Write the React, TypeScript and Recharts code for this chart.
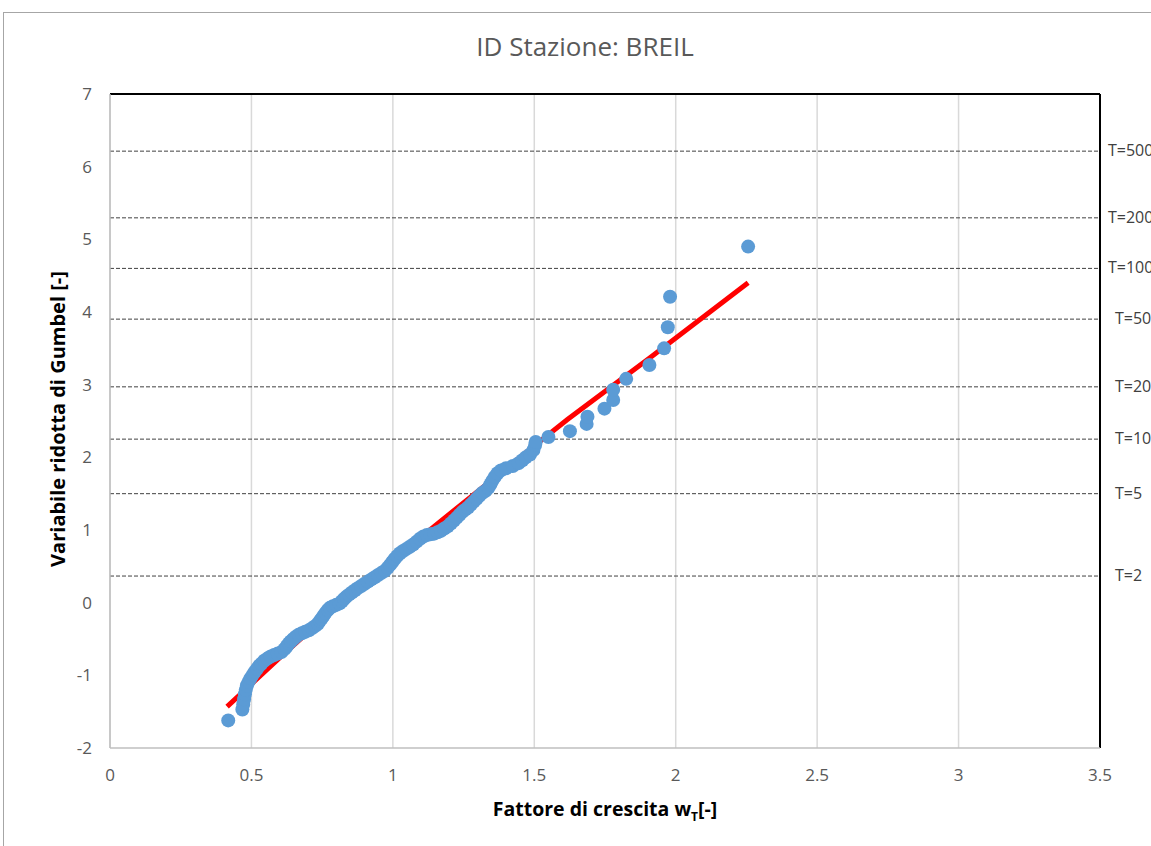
import React from 'react';
import {
  ComposedChart, Scatter, XAxis, YAxis, CartesianGrid, ReferenceLine,
} from 'recharts';

// growth factor w_T of each annual maximum (sorted)
const growthFactor = [
  0.418, 0.468, 0.471, 0.474, 0.477, 0.480, 0.484, 0.490, 0.497, 0.505,
  0.512, 0.520, 0.527, 0.535, 0.545, 0.556, 0.568, 0.580, 0.593, 0.606,
  0.617, 0.625, 0.632, 0.640, 0.648, 0.657, 0.667, 0.678, 0.690, 0.703,
  0.715, 0.726, 0.735, 0.742, 0.748, 0.755, 0.762, 0.770, 0.778, 0.788,
  0.800, 0.812, 0.820, 0.827, 0.835, 0.845, 0.855, 0.866, 0.876, 0.888,
  0.900, 0.912, 0.924, 0.936, 0.948, 0.960, 0.972, 0.982, 0.990, 0.998,
  1.006, 1.015, 1.025, 1.036, 1.048, 1.060, 1.072, 1.084, 1.096, 1.108,
  1.120, 1.133, 1.146, 1.158, 1.170, 1.182, 1.194, 1.205, 1.216, 1.226,
  1.236, 1.246, 1.256, 1.266, 1.276, 1.286, 1.296, 1.306, 1.316, 1.328,
  1.338, 1.345, 1.352, 1.360, 1.370, 1.382, 1.400, 1.424, 1.445, 1.458,
  1.470, 1.485, 1.497, 1.503, 1.505, 1.550, 1.626, 1.685, 1.688, 1.748,
  1.779, 1.779, 1.825, 1.907, 1.959, 1.972, 1.980, 2.256,
];

// Gumbel reduced variate of the plotting position
const reducedVariate = [
  -1.62, -1.47, -1.40, -1.33, -1.26, -1.20, -1.14, -1.09, -1.04, -0.99,
  -0.95, -0.91, -0.87, -0.84, -0.80, -0.77, -0.74, -0.72, -0.70, -0.68,
  -0.64, -0.60, -0.56, -0.53, -0.50, -0.47, -0.44, -0.42, -0.40, -0.38,
  -0.35, -0.32, -0.29, -0.25, -0.22, -0.18, -0.14, -0.10, -0.07, -0.05,
  -0.03, -0.01, 0.02, 0.05, 0.08, 0.11, 0.14, 0.17, 0.20, 0.23,
  0.26, 0.29, 0.32, 0.35, 0.38, 0.41, 0.44, 0.48, 0.52, 0.56,
  0.60, 0.64, 0.68, 0.71, 0.74, 0.77, 0.80, 0.84, 0.88, 0.91,
  0.93, 0.94, 0.95, 0.97, 0.99, 1.02, 1.05, 1.09, 1.13, 1.17,
  1.21, 1.25, 1.28, 1.31, 1.35, 1.39, 1.43, 1.47, 1.51, 1.54,
  1.58, 1.63, 1.68, 1.73, 1.78, 1.82, 1.85, 1.88, 1.92, 1.96,
  2.00, 2.04, 2.10, 2.17, 2.21, 2.28, 2.36, 2.46, 2.56, 2.67,
  2.79, 2.93, 3.08, 3.27, 3.50, 3.79, 4.21, 4.90,
];

// fitted growth curve
const fitX = [0.414, 0.608, 0.848, 1.167, 1.499, 1.616, 1.909, 2.256];
const fitY = [-1.431, -0.729, 0.110, 1.115, 2.154, 2.518, 3.371, 4.403];

// return periods and their reduced variate
const returnPeriods = [2, 5, 10, 20, 50, 100, 200, 500];
const returnVariate = [0.3665, 1.4999, 2.2504, 2.9702, 3.9019, 4.6001, 5.2958, 6.2136];

const xTicks = [0, 0.5, 1, 1.5, 2, 2.5, 3, 3.5];
const yTicks = [-2, -1, 0, 1, 2, 3, 4, 5, 6, 7];

const points = growthFactor.map((x, i) => ({ x, y: reducedVariate[i] }));
const fitLine = fitX.map((x, i) => ({ x, y: fitY[i] }));

const FONT = '"Open Sans", sans-serif';
const tickStyle = { fill: '#595959', fontSize: 17, fontFamily: FONT };

const Dot = (props: any) => (
  <circle cx={props.cx} cy={props.cy} r={7} fill="#5b9bd5" />
);

// return period label sits just outside the right border
const periodLabel = (period: number) => (props: any) => {
  const vb = props.viewBox || {};
  const x = vb.x + vb.width + (period >= 100 ? 8 : 15);
  return (
    <text x={x} y={vb.y - 1} dominantBaseline="central" fill="#404040"
      fontSize={16} fontFamily={FONT}>
      {`T=${period}`}
    </text>
  );
};

export default function App() {
  return (
    <div style={{ position: 'absolute', left: 0, top: 0, width: 1151, height: 846, overflow: 'hidden', background: '#fff' }}>
      <div style={{ position: 'absolute', left: 3, top: 12, width: 1200, height: 840, border: '1px solid #a6a6a6' }} />
      <div style={{ position: 'absolute', left: 585, top: 46, transform: 'translate(-50%, -50%)', whiteSpace: 'nowrap', fontFamily: FONT, fontSize: 26, color: '#595959' }}>
        ID Stazione: BREIL
      </div>
      <div style={{ position: 'absolute', left: 57, top: 419, transform: 'translate(-50%, -50%) rotate(-90deg)', whiteSpace: 'nowrap', fontFamily: FONT, fontSize: 20, fontWeight: 700, color: '#000' }}>
        Variabile ridotta di Gumbel [-]
      </div>
      <div style={{ position: 'absolute', left: 605, top: 810, transform: 'translate(-50%, -50%)', whiteSpace: 'nowrap', fontFamily: FONT, fontSize: 19.5, fontWeight: 700, color: '#000' }}>
        Fattore di crescita w<sub style={{ fontSize: 12 }}>T</sub>[-]
      </div>
      <ComposedChart width={1151} height={846} margin={{ top: 94, right: 51, bottom: 68, left: 50 }}
        style={{ position: 'absolute', left: 0, top: 0 }}>
        <CartesianGrid horizontal={false} stroke="#d9d9d9" strokeWidth={1.5} />
        <XAxis type="number" dataKey="x" domain={[0, 3.5]} ticks={xTicks} height={30}
          tick={tickStyle} tickLine={false} tickMargin={15} axisLine={{ stroke: '#bfbfbf', strokeWidth: 1.5 }} />
        <YAxis type="number" dataKey="y" domain={[-2, 7]} ticks={yTicks} width={60}
          tick={tickStyle} tickLine={false} tickMargin={12} axisLine={{ stroke: '#bfbfbf', strokeWidth: 1.5 }} />
        {returnPeriods.map((t, i) => (
          <ReferenceLine key={t} y={returnVariate[i]} stroke="#404040" strokeDasharray="4 2"
            label={periodLabel(t)} />
        ))}
        <ReferenceLine y={7} stroke="#000" strokeWidth={2} />
        <ReferenceLine x={3.5} stroke="#000" strokeWidth={2} />
        <Scatter data={fitLine} line={{ stroke: '#ff0000', strokeWidth: 5 }} lineType="joint"
          shape={() => null} isAnimationActive={false} />
        <Scatter data={points} shape={Dot} isAnimationActive={false} />
      </ComposedChart>
    </div>
  );
}
